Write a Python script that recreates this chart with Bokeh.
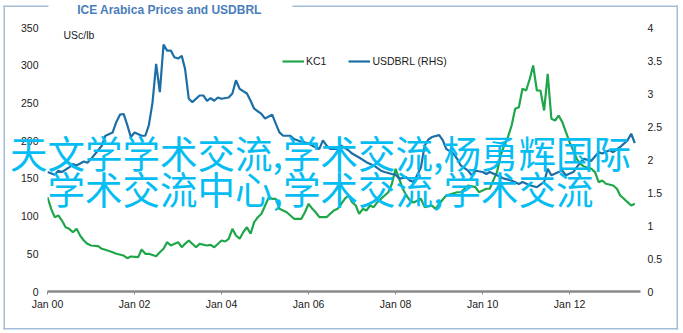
import pandas as pd
from bokeh.plotting import figure
from bokeh.layouts import column
from bokeh.models import (Range1d, LinearAxis, FixedTicker, DatetimeTickFormatter, Label,
                          BoxAnnotation, Legend, LegendItem)
from bokeh.embed import file_html
from bokeh.resources import INLINE

# ---------------- data ----------------
title_text = "ICE Arabica Prices and USDBRL"
unit_text = "USc/lb"
overlay_line1 = "天文学学术交流,学术交流,杨勇辉国际"
overlay_line2 = "学术交流中心,学术交流,学术交流"

kc1_dates = [
    "2000-01", "2000-02", "2000-03", "2000-04", "2000-05", "2000-06", "2000-07", "2000-08", "2000-09",
    "2000-10", "2000-11", "2000-12", "2001-01", "2001-03", "2001-04", "2001-05", "2001-07", "2001-08",
    "2001-10", "2001-11", "2001-12", "2002-02", "2002-03", "2002-04", "2002-05", "2002-07", "2002-08",
    "2002-09", "2002-10", "2002-11", "2003-01", "2003-02", "2003-03", "2003-04", "2003-06", "2003-07",
    "2003-09", "2003-10", "2003-11", "2004-01", "2004-02", "2004-03", "2004-04", "2004-05", "2004-06",
    "2004-07", "2004-08", "2004-09", "2004-10", "2004-11", "2004-12", "2005-01", "2005-02", "2005-03",
    "2005-04", "2005-05", "2005-07", "2005-08", "2005-09", "2005-11", "2005-12", "2006-01", "2006-02",
    "2006-03", "2006-04", "2006-06", "2006-07", "2006-08", "2006-09", "2006-11", "2006-12", "2007-01",
    "2007-02", "2007-03", "2007-04", "2007-05", "2007-06", "2007-07", "2007-08", "2007-09", "2007-11",
    "2007-12", "2008-01", "2008-02", "2008-03", "2008-04", "2008-05", "2008-06", "2008-08", "2008-09",
    "2008-11", "2008-12", "2009-01", "2009-03", "2009-06", "2009-07", "2009-09", "2009-11", "2009-12",
    "2010-02", "2010-03", "2010-05", "2010-06", "2010-07", "2010-08", "2010-09", "2010-10", "2010-11",
    "2010-12", "2011-01", "2011-02", "2011-03", "2011-04", "2011-05", "2011-06", "2011-07", "2011-08",
    "2011-09", "2011-10", "2011-11", "2011-12", "2012-01", "2012-02", "2012-03", "2012-04", "2012-05",
    "2012-07", "2012-08", "2012-09", "2012-10", "2012-11", "2013-01", "2013-02", "2013-03", "2013-04",
    "2013-05", "2013-06", "2013-07",
]
kc1_values = [
    125.0, 109.6, 98.5, 100.8, 94.1, 85.2, 83.1, 78.6, 83.1,
    74.2, 67.6, 63.2, 61.0, 60.1, 56.6, 55.3, 52.1, 50.0,
    47.7, 44.1, 46.4, 45.5, 55.7, 50.0, 50.0, 46.8, 52.1,
    56.6, 65.4, 61.0, 65.4, 58.7, 63.2, 67.6, 58.7, 63.2,
    61.0, 61.9, 58.7, 67.6, 66.3, 69.9, 83.1, 74.2, 69.9,
    78.6, 85.2, 76.5, 91.9, 98.5, 103.0, 114.0, 125.0, 122.9,
    122.9, 109.6, 105.1, 100.8, 96.4, 96.4, 105.1, 116.3, 109.6,
    105.1, 98.5, 98.5, 103.0, 107.4, 109.6, 122.9, 127.3, 118.4,
    114.0, 103.0, 109.6, 107.4, 114.0, 111.8, 118.4, 122.9, 131.6,
    142.8, 162.7, 149.4, 136.2, 127.3, 120.6, 118.0, 122.9, 111.8,
    114.0, 109.6, 116.3, 127.3, 131.6, 131.6, 140.5, 138.3, 131.6,
    136.2, 136.2, 158.2, 180.3, 193.6, 204.6, 220.1, 242.2, 244.3,
    268.7, 266.5, 282.0, 299.6, 266.5, 266.5, 240.0, 288.6, 229.0,
    226.7, 233.3, 224.4, 211.2, 197.9, 186.9, 175.9, 169.3, 165.7,
    162.7, 158.2, 144.9, 147.2, 142.8, 140.5, 136.2, 127.3, 122.9,
    118.4, 114.0, 116.3,
]

brl_dates = [
    "2000-01", "2000-03", "2000-04", "2000-05", "2000-07", "2000-08", "2000-09", "2000-11", "2000-12",
    "2001-01", "2001-03", "2001-04", "2001-05", "2001-07", "2001-08", "2001-09", "2001-10", "2001-11",
    "2001-12", "2002-01", "2002-03", "2002-04", "2002-05", "2002-06", "2002-07", "2002-08", "2002-09",
    "2002-10", "2002-11", "2002-12", "2003-01", "2003-02", "2003-03", "2003-04", "2003-05", "2003-07",
    "2003-08", "2003-09", "2003-10", "2003-11", "2003-12", "2004-01", "2004-03", "2004-04", "2004-05",
    "2004-06", "2004-08", "2004-09", "2004-10", "2004-12", "2005-01", "2005-03", "2005-04", "2005-05",
    "2005-06", "2005-08", "2005-09", "2005-11", "2006-01", "2006-02", "2006-04", "2006-05", "2006-06",
    "2006-07", "2006-09", "2006-10", "2006-12", "2007-01", "2007-03", "2007-05", "2007-07", "2007-09",
    "2007-10", "2007-12", "2008-01", "2008-02", "2008-04", "2008-05", "2008-06", "2008-08", "2008-09",
    "2008-10", "2008-11", "2009-01", "2009-02", "2009-03", "2009-05", "2009-06", "2009-07", "2009-09",
    "2009-10", "2009-11", "2010-01", "2010-02", "2010-03", "2010-05", "2010-07", "2010-09", "2010-11",
    "2010-12", "2011-02", "2011-04", "2011-06", "2011-07", "2011-08", "2011-10", "2011-11", "2011-12",
    "2012-02", "2012-04", "2012-05", "2012-07", "2012-09", "2012-10", "2012-12", "2013-01", "2013-03",
    "2013-04", "2013-05", "2013-06", "2013-07",
]
brl_values = [
    1.81, 1.77, 1.83, 1.81, 1.88, 1.93, 1.91, 1.97, 1.95,
    2.01, 2.14, 2.21, 2.36, 2.41, 2.57, 2.68, 2.69, 2.52,
    2.34, 2.41, 2.36, 2.36, 2.52, 2.87, 3.45, 3.02, 3.74,
    3.65, 3.65, 3.55, 3.53, 3.57, 3.37, 2.92, 2.87, 2.97,
    2.97, 2.89, 2.93, 2.89, 2.94, 2.92, 2.94, 3.00, 3.20,
    3.07, 3.00, 2.89, 2.77, 2.69, 2.62, 2.68, 2.54, 2.41,
    2.36, 2.36, 2.31, 2.27, 2.24, 2.21, 2.16, 2.29, 2.21,
    2.16, 2.16, 2.21, 2.14, 2.09, 2.03, 1.96, 1.91, 1.83,
    1.81, 1.78, 1.77, 1.71, 1.73, 1.68, 1.66, 1.88, 2.21,
    2.30, 2.34, 2.37, 2.29, 2.16, 2.09, 2.01, 1.91, 1.83,
    1.76, 1.83, 1.81, 1.78, 1.81, 1.76, 1.71, 1.68, 1.63,
    1.66, 1.61, 1.58, 1.66, 1.86, 1.76, 1.81, 1.83, 1.76,
    1.81, 1.96, 2.01, 1.98, 2.11, 2.09, 2.14, 2.11, 2.19,
    2.24, 2.29, 2.39, 2.25,
]

x_tick_dates = ["2000-01-01", "2002-01-01", "2004-01-01", "2006-01-01",
                "2008-01-01", "2010-01-01", "2012-01-01"]
left_ticks = [0, 50, 100, 150, 200, 250, 300, 350]
rhs_ticks = [0, 0.5, 1, 1.5, 2, 2.5, 3, 3.5, 4]
rhs_tick_labels = ["0", "0.5", "1", "1.5", "2", "2.5", "3", "3.5", "4"]
x_start, x_end = "2000-01-01", "2013-08-18"

# ---------------- styles ----------------
W, H = 683, 333
GREEN = "#1fa64a"
BLUE = "#1c6fa6"
CYAN = "#06bdf3"
BORDER = "#a3bdd8"
TITLE_C = "#4a7ebb"
TXT = "#1a1a1a"
FONT = "Liberation Sans"
FS = "10.5px"

p = figure(width=W, height=H, output_backend="svg", toolbar_location=None,
           x_axis_type="datetime",
           x_range=Range1d(pd.Timestamp(x_start), pd.Timestamp(x_end)),
           y_range=Range1d(0, 350),
           min_border_left=47, min_border_right=43, min_border_top=27, min_border_bottom=42)
p.extra_y_ranges = {"rhs": Range1d(0, 4)}
p.outline_line_color = None
p.grid.visible = False
p.background_fill_color = "white"
p.border_fill_color = "white"
p.frame_align = False

# x axis
xa = p.xaxis[0]
xa.ticker = FixedTicker(ticks=[pd.Timestamp(d).value / 1e6 for d in x_tick_dates])
xa.formatter = DatetimeTickFormatter(years="%b %y", months="%b %y", days="%b %y",
                                     hours="%b %y", minutes="%b %y", seconds="%b %y",
                                     milliseconds="%b %y", microseconds="%b %y", hourmin="%b %y",
                                     minsec="%b %y")
xa.axis_line_color = "#8a8a8a"
xa.axis_line_width = 2.5
xa.major_tick_line_color = "#8a8a8a"
xa.major_tick_in = 0
xa.major_tick_out = 3
xa.minor_tick_line_color = None
xa.major_label_standoff = 3
xa.major_label_text_font = FONT
xa.major_label_text_font_size = FS
xa.major_label_text_color = TXT

# left axis
ya = p.yaxis[0]
ya.ticker = FixedTicker(ticks=left_ticks)
ya.axis_line_color = None
ya.major_tick_line_color = None
ya.minor_tick_line_color = None
ya.major_tick_out = 0
ya.major_tick_in = 0
ya.major_label_standoff = 9
ya.major_label_text_font = FONT
ya.major_label_text_font_size = FS
ya.major_label_text_color = TXT

# right axis
ra = LinearAxis(y_range_name="rhs", ticker=FixedTicker(ticks=rhs_ticks),
                major_label_overrides=dict(zip(rhs_ticks, rhs_tick_labels)))
ra.axis_line_color = None
ra.major_tick_line_color = None
ra.minor_tick_line_color = None
ra.major_tick_out = 0
ra.major_tick_in = 0
ra.major_label_standoff = 7
ra.major_label_text_font = FONT
ra.major_label_text_font_size = FS
ra.major_label_text_color = TXT
p.add_layout(ra, "right")

# lines
r1 = p.line(pd.to_datetime(kc1_dates), kc1_values, color=GREEN, line_width=2.2)
r2 = p.line(pd.to_datetime(brl_dates), brl_values, color=BLUE, line_width=2.2, y_range_name="rhs")

legend = Legend(items=[LegendItem(label="KC1", renderers=[r1]),
                       LegendItem(label="USDBRL (RHS)", renderers=[r2])],
                orientation="horizontal", location=(235, 224),
                border_line_color=None, background_fill_alpha=0,
                padding=0, margin=0, spacing=22, glyph_width=22, glyph_height=12,
                label_standoff=2, label_text_font=FONT, label_text_font_size=FS,
                label_text_color=TXT)
p.add_layout(legend)

p.add_layout(Label(x=63, y=34, x_units="canvas", y_units="canvas", text=unit_text,
                   text_align="left", text_baseline="middle", text_font=FONT,
                   text_font_size=FS, text_color=TXT))

# ---------- transparent overlay figure covering the whole canvas ----------
ov = figure(width=W, height=H, output_backend="svg", toolbar_location=None,
            x_axis_location=None, y_axis_location=None, min_border=0,
            x_range=Range1d(0, W), y_range=Range1d(H, 0))
ov.grid.visible = False
ov.outline_line_color = None
ov.background_fill_alpha = 0
ov.border_fill_alpha = 0
ov.frame_align = False
ov.margin = (-H, 0, 0, 0)


def edge(l, r, t, b):
    return BoxAnnotation(left=l, right=r, top=t, bottom=b,
                         left_units="canvas", right_units="canvas",
                         top_units="canvas", bottom_units="canvas",
                         fill_color=BORDER, fill_alpha=1, line_color=None)


for e in [edge(3, 4.5, 5, 329), edge(676, 677.5, 5, 329), edge(3, 677.5, 327.5, 329),
          edge(3, 48, 5, 6.5), edge(292, 677.5, 5, 6.5)]:
    ov.add_layout(e)

ov.add_layout(Label(x=169, y=9, x_units="canvas", y_units="canvas", text=title_text,
                    text_align="center", text_baseline="middle", text_font=FONT,
                    text_font_style="bold", text_font_size="12px", text_color=TITLE_C))

for txt, yy in [(overlay_line1, 151), (overlay_line2, 187)]:
    ov.add_layout(Label(x=320, y=yy, x_units="canvas", y_units="canvas", text=txt,
                        text_align="center", text_baseline="middle",
                        text_font="Noto Sans CJK SC", text_font_size="37.5px",
                        text_color=CYAN))

layout = column(p, ov, spacing=0)
open("out.html", "w").write(file_html(layout, INLINE))
